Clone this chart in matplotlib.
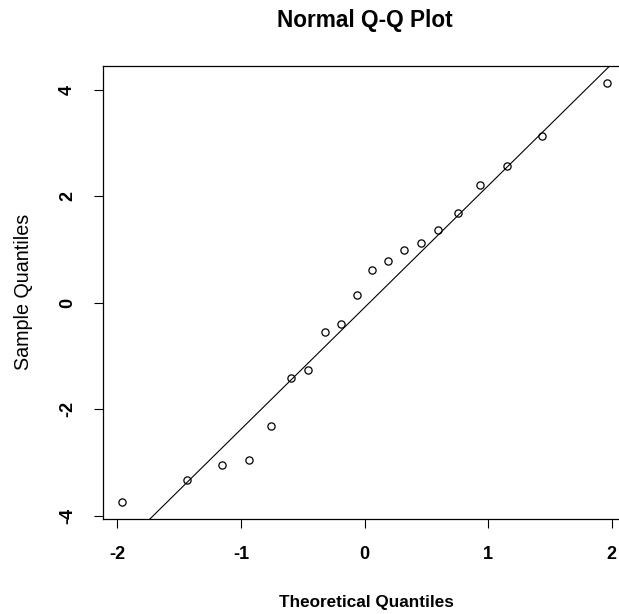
import numpy as np
import matplotlib
matplotlib.use("Agg")
import matplotlib.pyplot as plt

plt.rcParams['axes.unicode_minus'] = False
plt.rcParams['font.family'] = ['Liberation Sans', 'DejaVu Sans']

# Theoretical normal quantiles for n = 20 and the sorted sample values
theoretical = [-1.960, -1.440, -1.150, -0.935, -0.755, -0.598, -0.454, -0.319,
               -0.189, -0.063, 0.063, 0.189, 0.319, 0.454, 0.598, 0.755,
               0.935, 1.150, 1.440, 1.960]
sample = [-3.745, -3.32, -3.045, -2.957, -2.307, -1.407, -1.269, -0.55,
          -0.394, 0.15, 0.607, 0.782, 0.989, 1.126, 1.37, 1.689,
          2.208, 2.57, 3.133, 4.128]
x_ticks = [-2, -1, 0, 1, 2]
y_ticks = [-4, -2, 0, 2, 4]

title = "Normal Q-Q Plot"
x_label = "Theoretical Quantiles"
y_label = "Sample Quantiles"

W, H = 619, 614
fig = plt.figure(figsize=(W / 100, H / 100), dpi=100)
fig.patch.set_facecolor('white')

# axes box in pixels: left 103, top 66, bottom 519; right edge runs past the canvas
left, top, bottom = 103, 66, 519
width_px = 523
ax = fig.add_axes([left / W, 1 - bottom / H, width_px / W, (bottom - top) / H])

ax.plot(theoretical, sample, linestyle='none', marker='o', markersize=5.2,
        markerfacecolor='none', markeredgecolor='black', markeredgewidth=0.9)

# reference line through the first and third quartiles
q = np.percentile(sample, [25, 75])
zq = np.array([-0.6744898, 0.6744898])
slope = (q[1] - q[0]) / (zq[1] - zq[0])
intercept = q[0] - slope * zq[0]
ax.axline((0, intercept), slope=slope, color='black', linewidth=0.8)

ax.margins(x=0.04, y=0.04)
ax.set_xticks(x_ticks)
ax.set_yticks(y_ticks)
ax.set_xticklabels([str(t) for t in x_ticks], fontsize=13, fontweight='bold')
ax.set_yticklabels([str(t) for t in y_ticks], fontsize=13, fontweight='bold',
                   rotation=90, va='center')
ax.tick_params(axis='both', direction='out', length=6.5, width=0.8, pad=13,
               color='black')
for s in ax.spines.values():
    s.set_linewidth(0.9)
    s.set_color('black')

fig.text(365 / W, 1 - 20 / H, title, ha='center', va='center',
         fontsize=16.3, fontweight='bold')
fig.text(366 / W, 1 - 603 / H, x_label, ha='center', va='center',
         fontsize=12.3, fontweight='bold')
fig.text(24 / W, 1 - 292 / H, y_label, ha='center', va='center',
         rotation=90, fontsize=14.2)

fig.savefig("out.png", dpi=100, facecolor='white')
